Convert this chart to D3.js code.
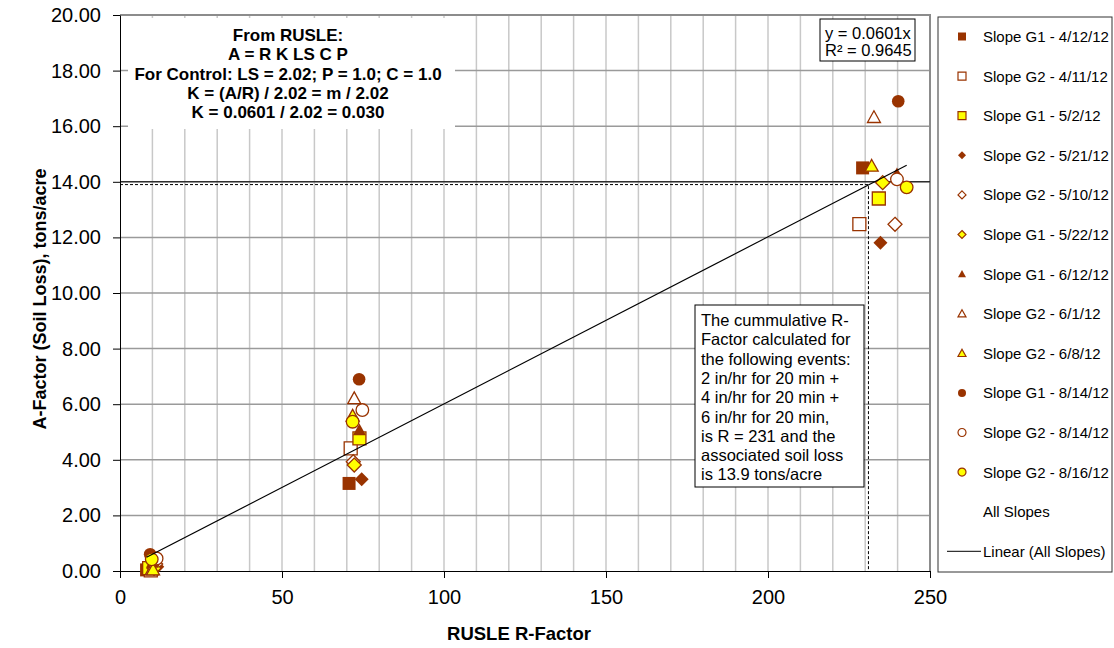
<!DOCTYPE html>
<html>
<head>
<meta charset="utf-8">
<script src="https://cdn.jsdelivr.net/npm/d3@7"></script>
<style>
  body { margin: 0; background: #fff; }
  svg { font-family: "Liberation Sans", Arial, sans-serif; }
</style>
</head>
<body>
<div class="chart"></div>
<script>
// series data (R-factor, A-factor), 3 events per series
let seriesNames = [
  "Slope G1 - 4/12/12", "Slope G2 - 4/11/12", "Slope G1 - 5/2/12",
  "Slope G2 - 5/21/12", "Slope G2 - 5/10/12", "Slope G1 - 5/22/12",
  "Slope G1 - 6/12/12", "Slope G2 - 6/1/12", "Slope G2 - 6/8/12",
  "Slope G1 - 8/14/12", "Slope G2 - 8/14/12", "Slope G2 - 8/16/12"
];
let seriesShapes = ["square", "square", "square", "diamond", "diamond", "diamond",
  "triangle", "triangle", "triangle", "circle", "circle", "circle"];
let seriesFills = ["brown", "open", "yellow", "brown", "open", "yellow",
  "brown", "open", "yellow", "brown", "open", "yellow"];

let rValues = [
  [8.2, 70.7, 229.2], [9.5, 71.2, 228.2], [9.0, 73.9, 234.2],
  [11.5, 74.6, 234.7], [11.0, 72.0, 239.2], [10.5, 72.3, 235.4],
  [10.0, 73.9, 239.8], [9.8, 72.3, 232.7], [10.2, 71.8, 232.0],
  [9.3, 73.8, 240.2], [11.3, 74.8, 239.8], [9.8, 71.8, 242.8]
];
let aValues = [
  [0.04, 3.15, 14.50], [0.02, 4.41, 12.48], [0.10, 4.77, 13.40],
  [0.15, 3.30, 11.81], [0.25, 3.93, 12.47], [0.10, 3.81, 13.97],
  [0.30, 5.07, 14.28], [0.05, 6.21, 16.32], [0.05, 5.58, 14.57],
  [0.60, 6.90, 16.90], [0.45, 5.79, 14.09], [0.42, 5.37, 13.80]
];

let slope = 0.0601;
let targetR = 231;
let targetA = 13.9;

let xTicks = [0, 50, 100, 150, 200, 250];
let yTicks = [0, 2, 4, 6, 8, 10, 12, 14, 16, 18, 20];

let rusleLines = [
  "From RUSLE:",
  "A = R K LS C P",
  "For Control: LS = 2.02; P = 1.0; C = 1.0",
  "K = (A/R) / 2.02 = m / 2.02",
  "K = 0.0601 / 2.02 = 0.030"
];
let noteLines = [
  "The cummulative R-",
  "Factor calculated for",
  "the following events:",
  "2 in/hr for 20 min +",
  "4 in/hr for 20 min +",
  "6 in/hr for 20 min,",
  "is R = 231 and the",
  "associated soil loss",
  "is 13.9 tons/acre"
];

let brown = "#993300";
let yellow = "#ffff00";

let svgWidth = 1114;
let svgHeight = 648;

let svg = d3.select(".chart")
  .append("svg")
  .attr("width", svgWidth)
  .attr("height", svgHeight);

let xScale = d3.scaleLinear().domain([0, 250]).range([120, 930]);
let yScale = d3.scaleLinear().domain([0, 20]).range([571, 15]);

// gridlines
svg.append("g").selectAll("line")
  .data(d3.range(10, 250, 10))
  .enter().append("line")
  .attr("x1", d => xScale(d)).attr("x2", d => xScale(d))
  .attr("y1", yScale(0)).attr("y2", yScale(20))
  .attr("stroke", "#c8c8c8").attr("stroke-width", 1.5);

svg.append("g").selectAll("line")
  .data(d3.range(2, 20, 2))
  .enter().append("line")
  .attr("x1", xScale(0)).attr("x2", xScale(250))
  .attr("y1", d => yScale(d)).attr("y2", d => yScale(d))
  .attr("stroke", "#9a9a9a").attr("stroke-width", 1.5);

// plot border (top + right)
svg.append("path")
  .attr("d", `M${xScale(0)},${yScale(20)}H${xScale(250)}V${yScale(0)}`)
  .attr("fill", "none").attr("stroke", "#8c8c8c").attr("stroke-width", 2);

// white box behind the RUSLE text
svg.append("rect")
  .attr("x", 128).attr("y", 18).attr("width", 327).attr("height", 111)
  .attr("fill", "#fff");

svg.append("g").selectAll("text")
  .data(rusleLines)
  .enter().append("text")
  .attr("x", 288)
  .attr("y", (d, i) => 41 + i * 19.3)
  .attr("text-anchor", "middle")
  .style("font-size", "17px")
  .style("font-weight", "bold")
  .text(d => d);

// reference lines for R = 231
svg.append("line")
  .attr("x1", xScale(0)).attr("x2", xScale(250))
  .attr("y1", yScale(14)).attr("y2", yScale(14))
  .attr("stroke", "#000").attr("stroke-width", 1);

svg.append("path")
  .attr("d", `M${xScale(0)},${yScale(targetA)}H${xScale(targetR)}V${yScale(0)}`)
  .attr("fill", "none").attr("stroke", "#000")
  .attr("stroke-width", 1).attr("stroke-dasharray", "3,2");

// axes
svg.append("g")
  .attr("transform", `translate(${xScale(0)},0)`)
  .call(d3.axisLeft(yScale).tickValues(yTicks).tickFormat(d3.format(".2f")).tickSize(7).tickSizeOuter(0).tickPadding(12))
  .call(g => g.selectAll("text").style("font-size", "20px").attr("fill", "#000"))
  .call(g => g.selectAll("line, path").attr("stroke", "#000"));

svg.append("g")
  .attr("transform", `translate(0,${yScale(0)})`)
  .call(d3.axisBottom(xScale).tickValues(xTicks).tickSize(7).tickSizeOuter(0).tickPadding(12))
  .call(g => g.selectAll("text").style("font-size", "20px").attr("fill", "#000"))
  .call(g => g.selectAll("line, path").attr("stroke", "#000"));

svg.append("text")
  .attr("x", 519).attr("y", 640)
  .attr("text-anchor", "middle")
  .style("font-size", "18.5px").style("font-weight", "bold")
  .text("RUSLE R-Factor");

svg.append("text")
  .attr("transform", `translate(46, ${(yScale(0) + yScale(20)) / 2 + 6}) rotate(-90)`)
  .attr("text-anchor", "middle")
  .style("font-size", "18px").style("font-weight", "bold")
  .text("A-Factor (Soil Loss), tons/acre");

// marker shapes
function markerPath(shape, s) {
  if (shape == "square") return `M${-s},${-s}H${s}V${s}H${-s}Z`;
  if (shape == "diamond") return `M0,${-s}L${s},0L0,${s}L${-s},0Z`;
  if (shape == "triangle") return `M0,${-s}L${s},${s * 0.8}L${-s},${s * 0.8}Z`;
  return d3.arc()({innerRadius: 0, outerRadius: s, startAngle: 0, endAngle: 2 * Math.PI});
}
function fillOf(f) { return f == "brown" ? brown : f == "yellow" ? yellow : "#fff"; }
function sizeOf(shape) {
  return {square: 6.5, diamond: 7, triangle: 6.5, circle: 6.3}[shape];
}

let pointData = [];
seriesNames.forEach((name, i) => {
  rValues[i].forEach((r, j) => {
    pointData.push({s: i, r: r, a: aValues[i][j]});
  });
});

svg.append("g").selectAll("path")
  .data(pointData)
  .enter().append("path")
  .attr("transform", d => `translate(${xScale(d.r)},${yScale(d.a)})`)
  .attr("d", d => markerPath(seriesShapes[d.s], sizeOf(seriesShapes[d.s])))
  .attr("fill", d => fillOf(seriesFills[d.s]))
  .attr("stroke", brown)
  .attr("stroke-width", d => seriesFills[d.s] == "brown" ? 0 : 1.3);

// linear trend line through origin over the range of all slopes
let allR = rValues.flat();
let rExtent = d3.extent(allR);
svg.append("line")
  .attr("x1", xScale(rExtent[0])).attr("y1", yScale(slope * rExtent[0]))
  .attr("x2", xScale(rExtent[1])).attr("y2", yScale(slope * rExtent[1]))
  .attr("stroke", "#000").attr("stroke-width", 1.2);

// regression label
svg.append("rect")
  .attr("x", 820).attr("y", 19).attr("width", 95).attr("height", 42)
  .attr("fill", "#fff").attr("stroke", "#000");
svg.append("text").attr("x", 825).attr("y", 39)
  .style("font-size", "16.5px").text("y = 0.0601x");
svg.append("text").attr("x", 825).attr("y", 56)
  .style("font-size", "16.5px").text("R\u00b2 = 0.9645");

// note box
svg.append("rect")
  .attr("x", 695).attr("y", 305).attr("width", 169).attr("height", 182)
  .attr("fill", "#fff").attr("stroke", "#000");
svg.append("g").selectAll("text")
  .data(noteLines)
  .enter().append("text")
  .attr("x", 701)
  .attr("y", (d, i) => 326 + i * 19.3)
  .style("font-size", "16.5px")
  .text(d => d);

// legend
let legend = svg.append("g");
legend.append("rect")
  .attr("x", 938).attr("y", 17).attr("width", 174).attr("height", 555)
  .attr("fill", "#fff").attr("stroke", "#333");

let legendItems = legend.selectAll("g")
  .data(seriesNames)
  .enter().append("g")
  .attr("transform", (d, i) => `translate(0, ${36.5 + i * 39.6})`);

legendItems.append("path")
  .attr("transform", "translate(962, 0)")
  .attr("d", (d, i) => markerPath(seriesShapes[i], 4))
  .attr("fill", (d, i) => fillOf(seriesFills[i]))
  .attr("stroke", brown)
  .attr("stroke-width", (d, i) => seriesFills[i] == "brown" ? 0 : 1.2);

legendItems.append("text")
  .attr("x", 983).attr("y", 5.5)
  .style("font-size", "15px")
  .text(d => d);

legend.append("text")
  .attr("x", 983).attr("y", 36.5 + 12 * 39.6 + 5.5)
  .style("font-size", "15px")
  .text("All Slopes");

legend.append("line")
  .attr("x1", 947).attr("x2", 981)
  .attr("y1", 36.5 + 13 * 39.6).attr("y2", 36.5 + 13 * 39.6)
  .attr("stroke", "#000");
legend.append("text")
  .attr("x", 983).attr("y", 36.5 + 13 * 39.6 + 5.5)
  .style("font-size", "15px")
  .text("Linear (All Slopes)");
</script>
</body>
</html>
